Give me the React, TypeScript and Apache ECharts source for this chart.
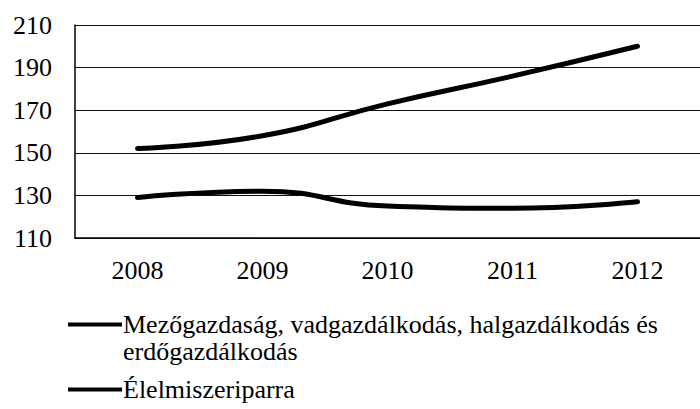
import React, { useEffect, useRef } from "react";
import * as echarts from "echarts";

const years = ["2008", "2009", "2010", "2011", "2012"];
const seriesNames = [
  "Mezőgazdaság, vadgazdálkodás, halgazdálkodás és erdőgazdálkodás",
  "Élelmiszeriparra",
];
const agriculture = [152, 158, 173, 186, 200];
const foodIndustry = [129, 132, 125, 124, 127];
const yMin = 110;
const yMax = 210;
const yStep = 20;

const FONT = "'Liberation Serif', 'Times New Roman', serif";

export default function App() {
  const ref = useRef<HTMLDivElement>(null);
  useEffect(() => {
    if (!ref.current) return;
    const chart = echarts.init(ref.current, undefined, { renderer: "svg" });
    const lineStyle = { color: "#000", width: 5, cap: "round" as const };
    const legendBase = {
      orient: "vertical",
      left: 63,
      itemWidth: 54,
      itemHeight: 4,
      icon: "rect",
      itemStyle: { color: "#000" },
      textStyle: { fontSize: 26, lineHeight: 27, color: "#000", fontFamily: FONT, padding: [0, 0, 0, -4] },
    };
    chart.setOption({
      animation: false,
      backgroundColor: "#fff",
      textStyle: { fontFamily: FONT, color: "#000" },
      grid: { left: 75, right: -8, top: 25, bottom: 171, containLabel: false },
      xAxis: {
        type: "category",
        data: years,
        boundaryGap: true,
        axisLine: { lineStyle: { color: "#000", width: 1.5 } },
        axisTick: { show: false },
        axisLabel: { fontSize: 26, color: "#000", fontFamily: FONT, margin: 19 },
      },
      yAxis: {
        type: "value",
        min: yMin,
        max: yMax,
        interval: yStep,
        axisLine: { show: true, lineStyle: { color: "#000", width: 1.5 } },
        axisTick: { show: false },
        splitLine: { lineStyle: { color: "#111", width: 1.2 } },
        axisLabel: { fontSize: 26, color: "#000", fontFamily: FONT, margin: 23 },
      },
      legend: [
        {
          ...legendBase,
          top: 279,
          formatter: () => "\nMezőgazdaság, vadgazdálkodás, halgazdálkodás és\nerdőgazdálkodás",
          data: [seriesNames[0]],
        },
        {
          ...legendBase,
          top: 371,
          data: [seriesNames[1]],
        },
      ],
      series: [
        {
          name: seriesNames[0],
          type: "line",
          smooth: true,
          symbol: "none",
          data: agriculture,
          lineStyle,
          itemStyle: { color: "#000" },
        },
        {
          name: seriesNames[1],
          type: "line",
          smooth: true,
          symbol: "none",
          data: foodIndustry,
          lineStyle,
          itemStyle: { color: "#000" },
        },
      ],
    });
    return () => chart.dispose();
  }, []);
  return (
    <div
      ref={ref}
      style={{ position: "absolute", left: 0, top: 0, width: 700, height: 409, overflow: "hidden" }}
    />
  );
}
